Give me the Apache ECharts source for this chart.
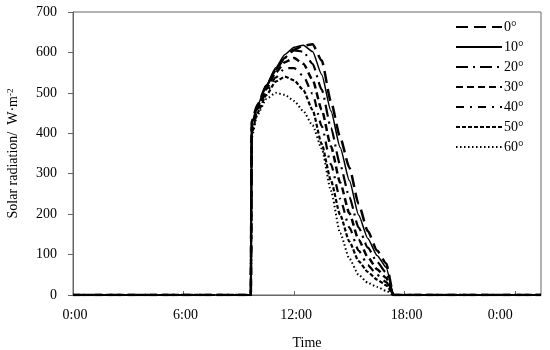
<!DOCTYPE html>
<html>
<head>
<meta charset="utf-8">
<script src="https://cdn.jsdelivr.net/npm/echarts@6/dist/echarts.min.js"></script>
<style>html,body{margin:0;padding:0;background:#fff;}#c{width:550px;height:350px;}</style>
</head>
<body>
<div id="c"></div>
<script>
// time in hours
var hours = [0, 9.65, 9.7, 10, 10.5, 11, 11.5, 12, 12.5, 13, 13.5, 14, 14.5, 15, 15.5, 16, 16.5, 17, 17.4, 25.4];
var names = ['0°', '10°', '20°', '30°', '40°', '50°', '60°'];
var s0  = [0, 0, 430, 470, 518, 556, 587, 607, 617, 620, 580, 478, 390, 315, 225, 158, 110, 78, 0, 0];
var s10 = [0, 0, 425, 468, 520, 562, 595, 613, 618, 602, 545, 455, 365, 283, 198, 140, 98, 68, 0, 0];
var s20 = [0, 0, 420, 465, 517, 557, 588, 605, 602, 572, 508, 413, 322, 242, 167, 117, 82, 55, 0, 0];
var s30 = [0, 0, 415, 460, 510, 550, 576, 586, 572, 533, 458, 368, 278, 202, 137, 94, 64, 42, 0, 0];
var s40 = [0, 0, 410, 455, 502, 538, 561, 561, 542, 498, 418, 323, 238, 167, 110, 74, 50, 32, 0, 0];
var s50 = [0, 0, 400, 450, 495, 528, 540, 531, 507, 458, 373, 283, 198, 132, 84, 57, 38, 24, 0, 0];
var s60 = [0, 0, 390, 445, 485, 500, 495, 480, 455, 420, 362, 258, 153, 90, 50, 30, 20, 10, 0, 0];
var yTicks = [0, 100, 200, 300, 400, 500, 600, 700];
var xTickLabels = ['0:00', '6:00', '12:00', '18:00', '0:00'];

var values = [s0, s10, s20, s30, s40, s50, s60];
var styles = [
  {width: 2.5, type: [12, 6]},
  {width: 1.5, type: 'solid'},
  {width: 2.2, type: [12, 5, 2, 5]},
  {width: 2.5, type: [7, 4]},
  {width: 2.2, type: [8, 6, 2, 6]},
  {width: 2.2, type: [4, 2]},
  {width: 2, type: [1.5, 2.5]}
];
var font = "'Liberation Serif', 'Times New Roman', serif";

var series = names.map(function (n, i) {
  return {
    name: n,
    type: 'line',
    data: hours.map(function (h, j) { return [h, values[i][j]]; }),
    showSymbol: false,
    symbol: 'none',
    smooth: 0.2,
    smoothMonotone: 'x',
    lineStyle: {color: '#000', width: styles[i].width, type: styles[i].type},
    itemStyle: {color: '#000'},
    z: 10 - i
  };
});

var chart = echarts.init(document.getElementById('c'));
chart.setOption({
  animation: false,
  backgroundColor: '#fff',
  grid: {left: 73, right: 9, top: 12, bottom: 55, show: true, borderColor: '#666', borderWidth: 1,
    containLabel: false, outerBoundsMode: 'none'},
  legend: {
    orient: 'vertical', left: 450, top: 15,
    itemWidth: 46, itemHeight: 14, itemGap: 6,
    itemStyle: {opacity: 0},
    textStyle: {fontFamily: font, fontSize: 14, color: '#000', padding: [0, 0, 0, -3]},
    data: names
  },
  xAxis: {
    type: 'value', min: 0, max: 25.4, interval: 6,
    name: 'Time', nameLocation: 'middle', nameGap: 41,
    nameTextStyle: {fontFamily: font, fontSize: 14, color: '#000'},
    axisLine: {lineStyle: {color: '#666', width: 1}},
    axisTick: {inside: true, length: 4, lineStyle: {color: '#666'}},
    splitLine: {show: false},
    axisLabel: {
      fontFamily: font, fontSize: 14, color: '#000', margin: 13,
      showMaxLabel: false,
      rich: {
        l: {fontFamily: font, fontSize: 14, color: '#000', padding: [0, 0, 0, 4]},
        r: {fontFamily: font, fontSize: 14, color: '#000', padding: [0, 30, 0, 0]}
      },
      formatter: function (v) {
        if (Math.abs(v / 6 - Math.round(v / 6)) > 1e-6) return '';
        var k = Math.round(v / 6);
        if (k < 0 || k >= xTickLabels.length) return '';
        if (k === 4) return '{r|' + xTickLabels[k] + '}';
        if (k === 0) return '{l|' + xTickLabels[k] + '}';
        return '{l|' + xTickLabels[k] + '}';
      }
    }
  },
  yAxis: {
    type: 'value', min: yTicks[0], max: yTicks[yTicks.length - 1], interval: 100,
    name: 'Solar radiation/  W·m{sup|-2}', nameLocation: 'middle', nameGap: 52,
    nameTextStyle: {fontFamily: font, fontSize: 14, color: '#000',
      rich: {sup: {fontFamily: font, fontSize: 9, color: '#000', verticalAlign: 'top', padding: [0, 0, 6, 0]}}},
    axisLine: {show: true, lineStyle: {color: '#666', width: 1}},
    axisTick: {show: true, inside: false, length: 5, lineStyle: {color: '#666'}},
    splitLine: {show: false},
    axisLabel: {fontFamily: font, fontSize: 14, color: '#000', margin: 16}
  },
  series: series
});
</script>
</body>
</html>
